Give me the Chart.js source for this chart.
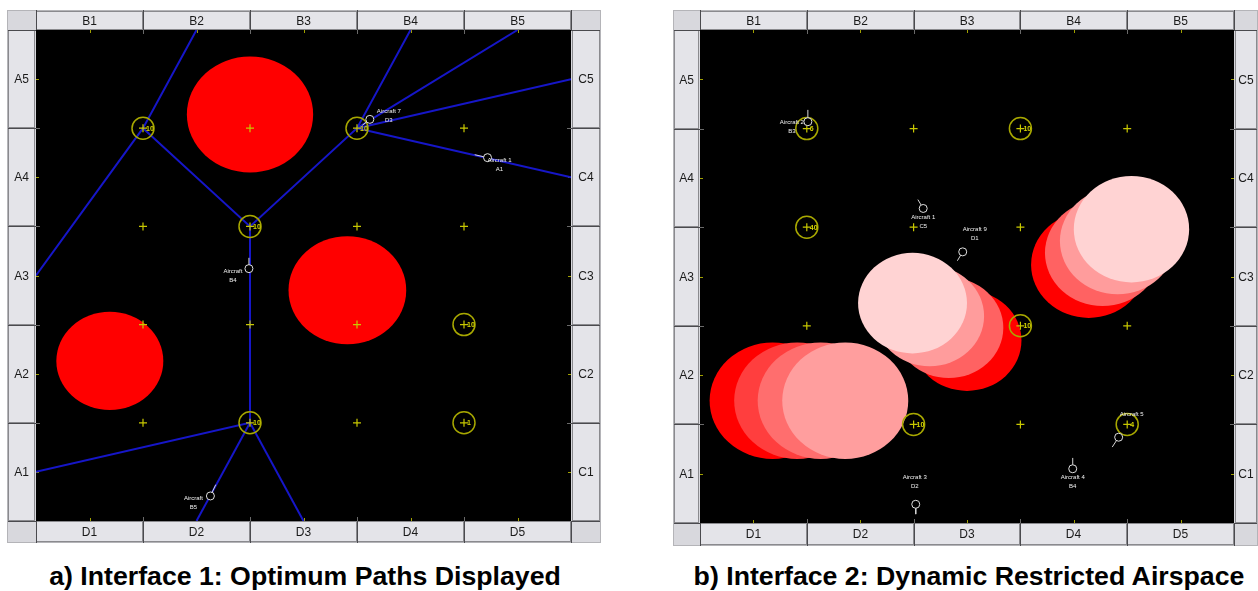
<!DOCTYPE html>
<html>
<head>
<meta charset="utf-8">
<title>Airspace interfaces</title>
<script src="https://cdn.jsdelivr.net/npm/chart.js@4.4.1/dist/chart.umd.min.js"></script>
<style>
  body { margin: 0; background: #fff; width: 1258px; height: 591px; position: relative; overflow: hidden;
         font-family: "Liberation Sans", Arial, sans-serif; }
  .panel { position: absolute; }
  .cap { position: absolute; top: 562px; font-weight: bold; font-size: 26.7px; line-height: 28px; text-align: center; color: #000; }
</style>
</head>
<body>
<div class="panel" style="left:7px;top:10px"><canvas id="chartA" width="594" height="533"></canvas></div>
<div class="panel" style="left:673px;top:10px"><canvas id="chartB" width="585" height="536"></canvas></div>
<div class="cap" style="left:0;width:610px">a) Interface 1: Optimum Paths Displayed</div>
<div class="cap" style="left:668px;width:602px">b) Interface 2: Dynamic Restricted Airspace</div>

<script>
// sector labels round the map
const topLabels = ['B1', 'B2', 'B3', 'B4', 'B5'];
const bottomLabels = ['D1', 'D2', 'D3', 'D4', 'D5'];
const leftLabels = ['A1', 'A2', 'A3', 'A4', 'A5'];
const rightLabels = ['C1', 'C2', 'C3', 'C4', 'C5'];

// ---- interface 1 ----
const waypointsA = [[1,1],[2,1],[3,1],[4,1],[1,2],[2,2],[3,2],[4,2],[1,3],[2,3],[3,3],[4,3],[1,4],[2,4],[3,4],[4,4]];
const ringsA = [[1,4],[3,4],[2,3],[2,1],[4,2],[4,1]];
const ringValuesA = ['10', '10', '10', '10', '10', '1'];
const pathsA = [
  [[0,2.5],[1,4],[1.5,5]],
  [[1,4],[2,3],[3,4],[3.5,5]],
  [[3,4],[4.5,5]],
  [[3,4],[5,4.5]],
  [[3,4],[5,3.5]],
  [[2,3],[2,1],[0,0.5]],
  [[2,1],[1.5,0]],
  [[2,1],[2.5,0]]
];
// restricted zones: centre x, centre y, radius (grid units)
const zonesA = [[2.0,4.14,0.59],[2.91,2.35,0.55],[0.69,1.63,0.50]];
const planesA = [[3.12,4.09],[4.22,3.70],[1.99,2.57],[1.63,0.255]];
const headingsA = [[3.05,4.03],[4.10,3.73],[1.99,2.68],[1.68,0.37]];
const planeNamesA = ['Aircraft 7', 'Aircraft 1', 'Aircraft', 'Aircraft'];
const planeSectorsA = ['D3', 'A1', 'B4', 'B5'];

// ---- interface 2 ----
const waypointsB = [[2,4],[4,4],[2,3],[3,3],[1,2],[4,2],[3,1],[1,4],[3,4],[1,3],[3,2],[2,1],[4,1]];
const ringsB = [[1,4],[3,4],[1,3],[3,2],[2,1],[4,1]];
const ringValuesB = ['6', '10', '40', '10', '10', '4'];
// each zone moves through four steps, oldest first
const zoneTrackB1 = [[0.68,1.24,0.59],[0.91,1.24,0.59],[1.13,1.24,0.59],[1.36,1.24,0.59]];
const zoneTrackB2 = [[2.50,1.85,0.51],[2.33,1.98,0.51],[2.15,2.10,0.51],[1.99,2.23,0.51]];
const zoneTrackB3 = [[3.64,2.62,0.54],[3.77,2.74,0.54],[3.91,2.86,0.54],[4.04,2.98,0.54]];
const planesB = [[1.01,4.07],[2.09,3.19],[2.46,2.75],[2.02,0.19],[3.49,0.55],[3.92,0.87]];
const headingsB = [[1.01,4.19],[2.04,3.28],[2.41,2.66],[2.02,0.09],[3.49,0.66],[3.86,0.77]];
const planeNamesB = ['Aircraft 2', 'Aircraft 1', 'Aircraft 9', 'Aircraft 3', 'Aircraft 4', 'Aircraft 5'];
const planeSectorsB = ['B3', 'C5', 'D1', 'D2', 'B4', ''];

// styles
const shadesA = ['#ff0000'];
const shadesB1 = ['#ff0000', '#ff3e3e', '#ff6e6e', '#ff9e9e'];
const shadesB2 = ['#ff0000', '#ff6262', '#ff9c9c', '#ffd3d3'];
const tagOffsetA = [[19,-8],[12,3],[-16,3],[-17,2]];
const tagOffsetB = [[-16,1],[0,9],[12,-23],[-1,-27],[0,9],[13,-23]];

function pts(list) {
  return list.map(function(p) { return { x: p[0], y: p[1] }; });
}

// gray cell frame, sector labels and black map
function framePlugin() {
  return {
    id: 'frame',
    beforeDraw: function(chart) {
      var ctx = chart.ctx, a = chart.chartArea, xs = chart.scales.x, ys = chart.scales.y;
      var W = chart.width, H = chart.height;
      ctx.save();
      ctx.fillStyle = '#d8d8dd';
      ctx.fillRect(0, 0, W, H);
      ctx.strokeStyle = '#b4b4b8';
      ctx.lineWidth = 1;
      ctx.strokeRect(0.5, 0.5, W - 1, H - 1);

      ctx.font = '12px "Liberation Sans", Arial, sans-serif';
      ctx.textAlign = 'center';
      ctx.textBaseline = 'middle';
      function cell(x, y, w, h, txt) {
        ctx.fillStyle = '#e4e4e9';
        ctx.fillRect(x, y, w, h);
        ctx.strokeStyle = '#8a8a8e';
        ctx.strokeRect(x + 0.5, y + 0.5, w - 1, h - 1);
        ctx.fillStyle = '#1a1a1a';
        ctx.fillText(txt, x + w / 2, y + h / 2 + 1);
      }
      for (var i = 0; i < 5; i++) {
        var x0 = Math.round(xs.getPixelForValue(i)), x1 = Math.round(xs.getPixelForValue(i + 1));
        cell(x0, 1, x1 - x0, a.top - 1, topLabels[i]);
        cell(x0, a.bottom, x1 - x0, H - a.bottom - 1, bottomLabels[i]);
        var y0 = Math.round(ys.getPixelForValue(i + 1)), y1 = Math.round(ys.getPixelForValue(i));
        cell(1, y0, a.left - 2, y1 - y0, leftLabels[i]);
        cell(a.right + 1, y0, W - a.right - 2, y1 - y0, rightLabels[i]);
      }
      // dark dividers between header cells
      ctx.strokeStyle = '#4a4a4e';
      for (var k = 0; k <= 5; k++) {
        var xv = Math.round(xs.getPixelForValue(k)) + 0.5;
        ctx.beginPath(); ctx.moveTo(xv, 0); ctx.lineTo(xv, a.top); ctx.stroke();
        ctx.beginPath(); ctx.moveTo(xv, a.bottom); ctx.lineTo(xv, H); ctx.stroke();
        var yv = Math.round(ys.getPixelForValue(k)) + 0.5;
        ctx.beginPath(); ctx.moveTo(1, yv); ctx.lineTo(a.left, yv); ctx.stroke();
        ctx.beginPath(); ctx.moveTo(a.right, yv); ctx.lineTo(W - 1, yv); ctx.stroke();
      }

      ctx.fillStyle = '#000';
      ctx.fillRect(a.left, a.top, a.right - a.left, a.bottom - a.top);

      // small edge ticks: gray at borders, yellow at sector centres
      for (var m = 1; m < 5; m++) {
        var bx = Math.round(xs.getPixelForValue(m)) + 0.5, by = Math.round(ys.getPixelForValue(m)) + 0.5;
        ctx.strokeStyle = '#6a6a6a';
        ctx.beginPath(); ctx.moveTo(bx, a.top); ctx.lineTo(bx, a.top + 4); ctx.stroke();
        ctx.beginPath(); ctx.moveTo(bx, a.bottom); ctx.lineTo(bx, a.bottom - 4); ctx.stroke();
        ctx.beginPath(); ctx.moveTo(a.left, by); ctx.lineTo(a.left + 4, by); ctx.stroke();
        ctx.beginPath(); ctx.moveTo(a.right, by); ctx.lineTo(a.right - 4, by); ctx.stroke();
      }
      ctx.strokeStyle = '#a0a000';
      for (var n = 0; n < 5; n++) {
        var cx = Math.round(xs.getPixelForValue(n + 0.5)) + 0.5, cy = Math.round(ys.getPixelForValue(n + 0.5)) + 0.5;
        ctx.beginPath(); ctx.moveTo(cx, a.top); ctx.lineTo(cx, a.top + 3); ctx.stroke();
        ctx.beginPath(); ctx.moveTo(cx, a.bottom); ctx.lineTo(cx, a.bottom - 3); ctx.stroke();
        ctx.beginPath(); ctx.moveTo(a.left, cy); ctx.lineTo(a.left + 3, cy); ctx.stroke();
        ctx.beginPath(); ctx.moveTo(a.right, cy); ctx.lineTo(a.right - 3, cy); ctx.stroke();
      }
      ctx.restore();
    }
  };
}

// restricted airspace discs, drawn under everything else
function zonePlugin(tracks, shades) {
  return {
    id: 'zones',
    beforeDatasetsDraw: function(chart) {
      var ctx = chart.ctx, a = chart.chartArea, xs = chart.scales.x, ys = chart.scales.y;
      ctx.save();
      ctx.beginPath();
      ctx.rect(a.left, a.top, a.right - a.left, a.bottom - a.top);
      ctx.clip();
      tracks.forEach(function(track, t) {
        track.forEach(function(z, s) {
          var cx = xs.getPixelForValue(z[0]), cy = ys.getPixelForValue(z[1]);
          var rx = xs.getPixelForValue(z[0] + z[2]) - cx, ry = cy - ys.getPixelForValue(z[1] + z[2]);
          ctx.fillStyle = shades[t][s];
          ctx.beginPath();
          ctx.ellipse(cx, cy, rx, ry, 0, 0, Math.PI * 2);
          ctx.fill();
        });
      });
      ctx.restore();
    }
  };
}

// waypoint values and aircraft tags
function tagPlugin(rings, values, planes, names, sectors, offsets) {
  return {
    id: 'tags',
    afterDatasetsDraw: function(chart) {
      var ctx = chart.ctx, xs = chart.scales.x, ys = chart.scales.y;
      ctx.save();
      ctx.font = 'bold 7px "Liberation Sans", Arial, sans-serif';
      ctx.fillStyle = '#d4d400';
      ctx.textAlign = 'left';
      ctx.textBaseline = 'middle';
      rings.forEach(function(r, i) {
        ctx.fillText(values[i], xs.getPixelForValue(r[0]) + 3, ys.getPixelForValue(r[1]) + 0.5);
      });
      ctx.font = '6px "Liberation Sans", Arial, sans-serif';
      ctx.fillStyle = '#f2f2f2';
      ctx.textAlign = 'center';
      planes.forEach(function(p, i) {
        var px = xs.getPixelForValue(p[0]) + offsets[i][0], py = ys.getPixelForValue(p[1]) + offsets[i][1];
        ctx.fillText(names[i], px, py);
        if (sectors[i]) ctx.fillText(sectors[i], px, py + 9);
      });
      ctx.restore();
    }
  };
}

function makeChart(id, pad, d) {
  var sets = [];
  d.paths.forEach(function(p) {
    sets.push({ data: pts(p), showLine: true, borderColor: '#1616c8', borderWidth: 2, pointRadius: 0, order: 5 });
  });
  sets.push({ data: pts(d.waypoints), pointStyle: 'cross', pointRadius: 4, borderColor: '#c8c800', borderWidth: 1.2, order: 4 });
  sets.push({ data: pts(d.rings), pointStyle: 'circle', pointRadius: 11, borderColor: '#a8a800', backgroundColor: 'rgba(0,0,0,0)', borderWidth: 1.5, order: 3 });
  d.planes.forEach(function(p, i) {
    sets.push({ data: pts([p, d.headings[i]]), showLine: true, borderColor: '#d6d6d6', borderWidth: 1, pointRadius: 0, order: 2 });
  });
  sets.push({ data: pts(d.planes), pointStyle: 'circle', pointRadius: 4, borderColor: '#e0e0e0', backgroundColor: '#000', borderWidth: 1, order: 1 });

  return new Chart(document.getElementById(id), {
    type: 'scatter',
    data: { datasets: sets },
    options: {
      responsive: false,
      animation: false,
      events: [],
      layout: { padding: pad },
      plugins: { legend: { display: false }, tooltip: { enabled: false } },
      scales: {
        x: { type: 'linear', min: 0, max: 5, display: false },
        y: { type: 'linear', min: 0, max: 5, display: false }
      }
    },
    plugins: [framePlugin(), zonePlugin(d.zones, d.shades),
              tagPlugin(d.rings, d.ringValues, d.planes, d.names, d.sectors, d.offsets)]
  });
}

makeChart('chartA', { left: 29, top: 20, right: 30, bottom: 22 }, {
  paths: pathsA, waypoints: waypointsA, rings: ringsA, ringValues: ringValuesA,
  zones: [zonesA], shades: [[shadesA[0], shadesA[0], shadesA[0]]],
  planes: planesA, headings: headingsA, names: planeNamesA, sectors: planeSectorsA, offsets: tagOffsetA
});

makeChart('chartB', { left: 27, top: 20, right: 24, bottom: 23 }, {
  paths: [], waypoints: waypointsB, rings: ringsB, ringValues: ringValuesB,
  zones: [zoneTrackB1, zoneTrackB2, zoneTrackB3], shades: [shadesB1, shadesB2, shadesB2],
  planes: planesB, headings: headingsB, names: planeNamesB, sectors: planeSectorsB, offsets: tagOffsetB
});
</script>
</body>
</html>
